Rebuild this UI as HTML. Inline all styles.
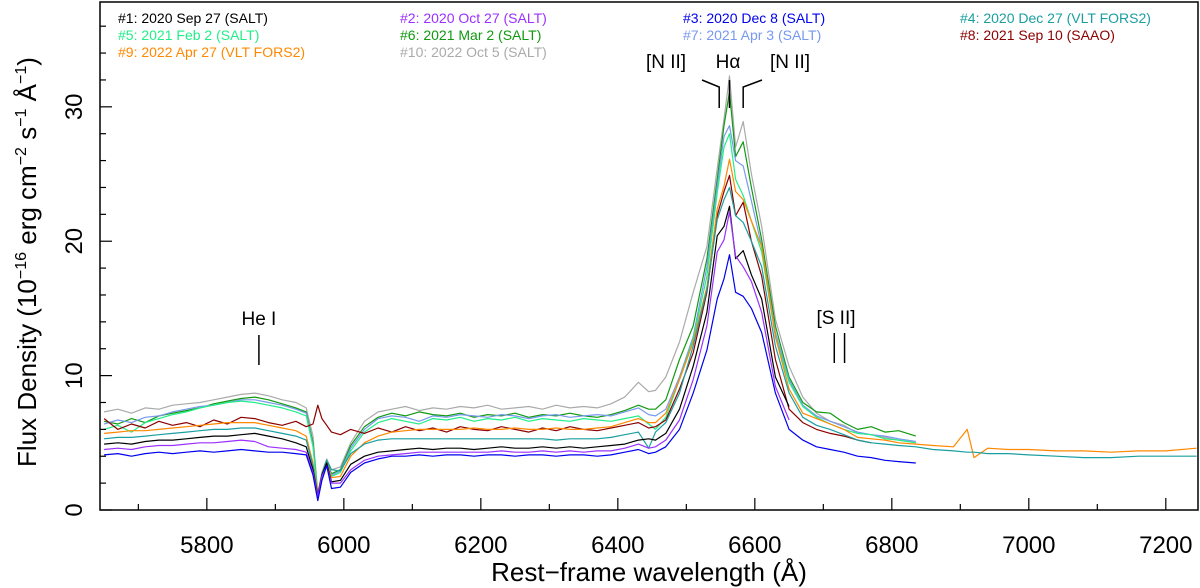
<!DOCTYPE html>
<html><head><meta charset="utf-8"><style>
html,body{margin:0;padding:0;background:#fff;}
svg{display:block;font-family:"Liberation Sans",Arial,sans-serif;}
</style></head><body>
<svg id="chart" width="1200" height="588" viewBox="0 0 1200 588" xmlns="http://www.w3.org/2000/svg">
<g id="series"></g>
<g id="axes"></g>
<g id="ann"></g>
<g id="legend"></g>
</svg>
<script>
const wl = [5650,5670,5690,5710,5730,5750,5770,5790,5810,5830,5850,5870,5890,5910,5930,5945,5955,5962,5968,5975,5982,5995,6010,6030,6050,6070,6090,6110,6130,6150,6170,6190,6210,6230,6250,6270,6290,6310,6330,6350,6370,6390,6410,6430,6445,6455,6470,6490,6510,6530,6545,6555,6563,6572,6583,6595,6610,6630,6650,6670,6690,6710,6730,6750,6770,6790,6810,6835];
const wlExt = [6860,6890,6910,6920,6940,6970,7000,7040,7080,7120,7160,7200,7245];
const s10 = [7.3,7.5,7.2,7.6,7.5,7.8,7.9,8.0,8.2,8.4,8.6,8.7,8.5,8.2,8.0,7.6,5.5,1.2,2.8,3.8,3.0,3.2,5.0,6.6,7.3,7.5,7.7,7.4,7.6,7.5,7.7,7.6,7.8,7.5,7.6,7.7,7.5,7.8,7.6,7.7,7.6,7.9,8.4,9.5,8.8,8.9,9.9,12.5,16.2,19.6,25.4,29.1,32.3,27.0,28.9,25.0,21.1,14.2,10.7,8.4,7.2,6.6,6.3,5.7,5.6,5.4,5.2,5.0];
const s6 = [6.6,6.4,6.8,6.5,7.0,7.2,7.4,7.6,7.9,8.1,8.3,8.4,8.2,7.9,7.6,7.3,5.0,1.1,2.6,3.6,2.7,3.0,4.8,6.2,6.9,7.2,7.0,7.3,7.1,7.0,7.2,6.9,7.1,7.0,7.2,6.9,7.1,7.0,7.2,7.0,6.9,7.1,7.4,7.8,7.5,7.5,8.2,11.2,13.7,18.7,24.6,28.6,31.1,26.3,27.4,24.0,20.1,13.7,9.9,8.0,7.3,7.2,6.5,6.0,6.2,5.8,5.9,5.5];
const s7 = [6.4,6.7,6.5,6.9,7.0,7.3,7.5,7.7,7.8,8.0,8.2,8.2,8.0,7.8,7.5,7.2,4.8,1.0,2.5,3.5,2.6,2.9,4.6,6.0,6.8,7.0,6.9,6.6,7.0,6.9,7.1,7.0,6.9,7.1,7.0,6.8,7.0,7.1,6.9,7.0,7.1,7.0,7.3,7.6,7.1,7.0,7.5,9.9,12.9,18.1,24.1,27.8,28.6,26.0,25.6,23.0,19.6,13.2,9.7,7.8,7.0,6.6,6.2,5.8,5.6,5.5,5.3,5.1];
const s5 = [6.0,6.3,5.8,6.5,6.8,7.1,7.3,7.6,7.8,8.0,8.1,8.0,7.8,7.6,7.3,7.0,4.7,1.0,2.5,3.4,2.5,2.8,4.4,5.8,6.5,6.8,6.6,6.4,6.8,6.7,6.9,6.6,6.8,6.7,6.9,6.6,6.8,6.7,6.6,6.8,6.7,6.6,6.8,7.0,6.4,6.0,6.9,9.7,12.7,17.4,23.6,27.0,28.0,24.6,23.4,21.5,19.2,12.9,9.5,7.7,6.9,6.4,6.0,5.7,5.6,5.3,5.2,5.0];
const s8 = [6.8,6.0,6.4,6.1,6.6,6.3,6.5,6.2,6.7,6.4,6.9,6.8,6.5,6.3,6.6,6.2,6.4,7.8,6.8,6.3,5.8,5.6,6.0,5.7,6.1,5.8,6.2,5.9,6.1,5.8,6.2,6.0,5.9,6.2,6.0,5.8,6.1,5.9,6.2,6.0,5.9,6.1,6.3,6.5,6.1,6.2,6.7,9.0,11.7,16.2,21.9,23.7,24.9,21.9,22.9,20.0,17.4,11.2,7.5,6.5,6.0,5.7,5.5,5.2,5.0,null,null,null];
const s9 = [5.7,5.8,5.9,5.9,6.0,6.1,6.2,6.3,6.4,6.5,6.5,6.5,6.3,6.1,5.9,5.5,3.5,1.2,2.7,3.5,2.4,2.5,4.0,5.0,5.5,5.8,5.9,6.0,6.0,6.0,6.0,6.1,6.0,6.0,6.1,6.0,6.0,6.1,6.0,6.0,6.1,6.2,6.5,6.8,6.5,6.5,7.2,9.7,12.5,16.6,22.4,24.1,26.1,23.7,23.1,21.5,19.6,12.9,9.0,7.2,6.8,6.4,6.0,5.4,5.3,5.2,5.0,4.9];
const s9Ext = [4.8,4.7,6.0,3.9,4.6,4.5,4.5,4.4,4.4,4.3,4.4,4.4,4.6];
const s4 = [5.3,5.4,5.4,5.5,5.6,5.7,5.8,5.9,6.0,6.0,6.1,6.1,5.9,5.7,5.5,5.2,3.3,1.0,2.7,3.7,3.0,2.9,4.2,4.9,5.2,5.3,5.3,5.3,5.3,5.3,5.3,5.3,5.3,5.3,5.3,5.3,5.3,5.2,5.3,5.3,5.3,5.4,5.6,5.8,4.6,5.8,6.5,8.7,12.2,16.4,21.6,23.1,24.0,21.9,21.4,20.0,18.1,12.2,8.7,6.9,6.3,6.0,5.6,5.2,5.0,4.9,4.8,4.7];
const s4Ext = [4.5,4.4,4.3,4.3,4.2,4.2,4.1,4.0,3.9,3.9,4.0,4.0,4.0];
const s1 = [4.9,5.0,4.9,5.1,5.2,5.2,5.3,5.4,5.5,5.5,5.6,5.7,5.5,5.3,5.0,4.7,3.0,1.1,2.6,3.5,2.1,2.2,3.4,4.0,4.3,4.4,4.5,4.6,4.5,4.6,4.6,4.5,4.6,4.7,4.6,4.6,4.7,4.6,4.7,4.6,4.7,4.8,4.9,5.2,5.3,5.2,5.7,7.5,10.7,14.7,20.4,21.1,22.6,18.7,19.3,17.5,15.7,9.9,7.7,null,null,null,null,null,null,null,null,null];
const s2 = [4.5,4.6,4.5,4.7,4.8,4.8,4.9,5.0,5.0,5.1,5.2,5.1,4.7,4.6,4.5,4.3,2.8,1.0,2.5,3.3,2.0,2.0,3.0,3.7,4.0,4.1,4.2,4.3,4.3,4.3,4.3,4.3,4.3,4.4,4.3,4.3,4.4,4.3,4.4,4.3,4.4,4.4,4.6,4.9,4.6,4.7,5.2,6.7,9.7,13.7,19.2,20.1,22.2,18.9,18.1,17.0,14.7,9.2,6.7,null,null,null,null,null,null,null,null,null];
const s3 = [4.1,4.2,4.0,4.2,4.3,4.2,4.3,4.4,4.3,4.4,4.5,4.4,4.3,4.3,4.2,4.1,2.6,0.7,2.2,3.3,1.6,1.7,2.8,3.5,3.8,4.0,4.0,4.1,4.0,4.1,4.1,4.0,4.1,4.1,4.0,4.1,4.1,4.0,4.1,4.1,4.0,4.1,4.3,4.5,4.2,4.3,4.7,6.0,8.7,11.9,15.7,17.2,19.0,16.2,15.9,15.0,13.2,8.7,6.0,5.2,4.7,4.5,4.3,4.0,3.9,3.7,3.6,3.5];
const xTicks = [5800,6000,6200,6400,6600,6800,7000,7200];
const yTicks = [0,10,20,30];
const legendLabels = ["#1: 2020 Sep 27 (SALT)","#2: 2020 Oct 27 (SALT)","#3: 2020 Dec 8 (SALT)","#4: 2020 Dec 27 (VLT FORS2)","#5: 2021 Feb 2 (SALT)","#6: 2021 Mar 2 (SALT)","#7: 2021 Apr 3 (SALT)","#8: 2021 Sep 10 (SAAO)","#9: 2022 Apr 27 (VLT FORS2)","#10: 2022 Oct 5 (SALT)"];
const legendColors = ["#000000","#9b30ff","#0000ee","#1a9fa0","#22ee88","#119911","#7799ee","#8b0000","#ff8800","#aaaaaa"];

const NS="http://www.w3.org/2000/svg";
const L=100,R=1198,T=2,B=510;
const xmin=5644, xmax=7247, ymin=0, ymax=37.8;
function X(w){return L+(w-xmin)/(xmax-xmin)*(R-L);}
function Y(v){return B-(v-ymin)/(ymax-ymin)*(B-T);}
function mk(tag,attrs,parent){const e=document.createElementNS(NS,tag);for(const k in attrs)e.setAttribute(k,attrs[k]);parent.appendChild(e);return e;}

const gS=document.getElementById('series');
const seriesList=[
 {name:'series-10',vals:s10,c:9},{name:'series-6',vals:s6,c:5},{name:'series-7',vals:s7,c:6},{name:'series-5',vals:s5,c:4},
 {name:'series-8',vals:s8,c:7},{name:'series-9',vals:s9,ext:s9Ext,c:8},{name:'series-4',vals:s4,ext:s4Ext,c:3},
 {name:'series-1',vals:s1,c:0},{name:'series-2',vals:s2,c:1},{name:'series-3',vals:s3,c:2}];
seriesList.forEach(s=>{
  let pts=[];
  wl.forEach((w,i)=>{if(s.vals[i]!=null)pts.push(X(w).toFixed(1)+','+Y(s.vals[i]).toFixed(1));});
  if(s.ext) wlExt.forEach((w,i)=>pts.push(X(w).toFixed(1)+','+Y(s.ext[i]).toFixed(1)));
  const p=mk('polyline',{points:pts.join(' '),fill:'none',stroke:legendColors[s.c],'stroke-width':1.2,'stroke-linejoin':'round'},gS);
  
  
});

const gA=document.getElementById('axes');
const frame=mk('rect',{x:L,y:T,width:R-L,height:B-T,fill:'none',stroke:'#000','stroke-width':1.5},gA);


for(let w=5700;w<=7200;w+=100){
  const major=(w%200===0);
  const t=mk('line',{x1:X(w),x2:X(w),y1:B,y2:B-(major?12:6),stroke:'#000','stroke-width':1.2},gA);
  
  
}
xTicks.forEach(w=>{
  const t=mk('text',{x:X(w),y:553,'font-size':24,'text-anchor':'middle',fill:'#000'},gA);
  t.textContent=w;
  
  
});
for(let v=0;v<=36;v+=2){
  const major=(v%10===0);
  const t=mk('line',{x1:L,x2:L+(major?12:6),y1:Y(v),y2:Y(v),stroke:'#000','stroke-width':1.2},gA);
  
  
}
yTicks.forEach(v=>{
  const t=mk('text',{x:0,y:0,'font-size':24,'text-anchor':'middle',fill:'#000',transform:`translate(82,${Y(v)}) rotate(-90)`},gA);
  t.textContent=v;
  
  
});
const xt=mk('text',{x:649,y:581,'font-size':26,'text-anchor':'middle',fill:'#000'},gA);
xt.textContent='Rest\u2212frame wavelength (\u00C5)';


const yt=mk('text',{x:0,y:0,'font-size':26,'text-anchor':'middle',fill:'#000',transform:'translate(36,262) rotate(-90)'},gA);
yt.innerHTML='Flux Density (10<tspan font-size="16" dy="-10">\u221216</tspan><tspan dy="10"> erg cm</tspan><tspan font-size="16" dy="-10">\u22122</tspan><tspan dy="10"> s</tspan><tspan font-size="16" dy="-10">\u22121</tspan><tspan dy="10"> \u00C5</tspan><tspan font-size="16" dy="-10">\u22121</tspan><tspan dy="10">)</tspan>';



const gN=document.getElementById('ann');
function txt(x,y,s,name){const t=mk('text',{x:x,y:y,'font-size':19,'text-anchor':'middle',fill:'#000'},gN);t.textContent=s;}
function pl(pts,name){const p=mk('polyline',{points:pts,fill:'none',stroke:'#000','stroke-width':1.5},gN);}
txt(X(5876),325,'He I','he-i-label'); pl(`${X(5876)},335 ${X(5876)},365`,'he-i-marker');
txt(666,68,'[N II]','nii-left-label'); txt(728,68,'H\u03B1','halpha-label'); txt(790,68,'[N II]','nii-right-label');
pl(`702,80 ${X(6548)},87 ${X(6548)},108`,'nii-left-marker');
pl(`${X(6563)},80 ${X(6563)},108`,'halpha-marker');
pl(`762,80 ${X(6583)},87 ${X(6583)},108`,'nii-right-marker');
txt(836,324,'[S II]','sii-label');
pl(`${X(6716)},333 ${X(6716)},363`,'sii-marker-1'); pl(`${X(6731)},333 ${X(6731)},363`,'sii-marker-2');

const gL=document.getElementById('legend');
const colX=[118,400,683,960], rowY=[23,40,57];
legendLabels.forEach((s,i)=>{
  const t=mk('text',{x:colX[i%4],y:rowY[Math.floor(i/4)],'font-size':14,fill:legendColors[i]},gL);
  t.textContent=s;
  
  
});
</script>
</body></html>
